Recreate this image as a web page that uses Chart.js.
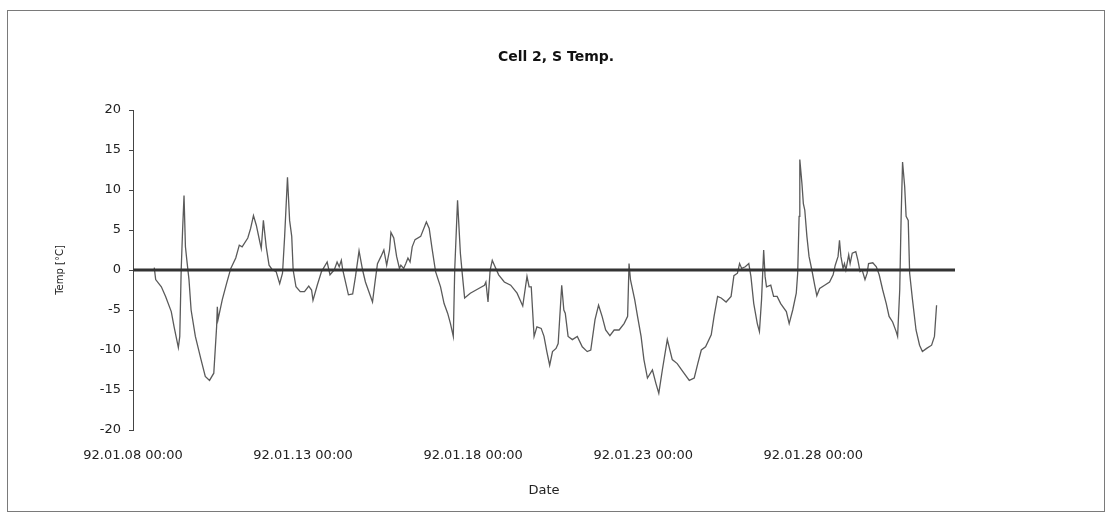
<!DOCTYPE html>
<html lang="en">
<head>
<meta charset="UTF-8">
<title>Cell 2, S Temp.</title>
<script src="https://cdn.jsdelivr.net/npm/chart.js@4.4.0/dist/chart.umd.min.js"></script>
<style>
    * {
        margin: 0;
        padding: 0;
        box-sizing: border-box;
    }

    body {
        width: 1110px;
        height: 512px;
        background: #fff;
        overflow: hidden;
    }

    #frame {
        position: absolute;
        left: 7px;
        top: 10px;
        width: 1098px;
        height: 502px;
        border: 1px solid #7a7a7a;
    }

    #box {
        position: absolute;
        left: 0;
        top: 0;
        width: 1096px;
        height: 500px;
    }
</style>
</head>
<body>
<div id="frame"><div id="box"><canvas id="chart"></canvas></div></div>

<script>
// hours since 92.01.08 00:00, and the S temperature of cell 2
const hours = [
    15, 16, 20, 23, 27, 29, 32, 33, 34, 35, 36, 37, 38, 39.5, 41, 44, 48, 51, 54, 57,
    59, 59.5, 60, 63, 66, 69, 72.5, 75, 77, 81, 83, 85, 87, 89.5, 90.5, 92, 94, 96, 98, 101,
    103.5, 105.5, 107, 109, 110.5, 112, 113, 115, 118, 121, 124, 126, 127, 130, 133, 137, 139, 142, 144, 145.5,
    147, 148, 152, 155, 157, 159.5, 162, 164, 169, 171, 172.5, 175, 177, 179, 181, 182, 184, 186, 188, 189,
    191, 192.5, 194, 195.5, 197, 199, 203, 207, 209, 211, 213.5, 217, 219.5, 222, 224, 226, 227, 229, 231, 232.5,
    234, 238, 243, 248, 249, 250.5, 252, 253.5, 255, 258, 262, 266.5, 271, 275, 278, 279.5, 281, 283, 285, 288,
    290, 292, 294, 296, 298.5, 300, 302.5, 304, 305, 307, 310, 313.5, 317, 320.5, 323, 326, 328.5, 331, 333.5, 336.5,
    339.5, 343, 346.5, 349, 350, 351, 354, 356, 358.5, 360.5, 363, 366.5, 369, 371, 373.5, 377, 380.5, 384, 388, 392.5,
    396, 398.5, 401, 404, 408, 410, 412.5, 415, 418.5, 422, 424, 426.5, 428, 429.5, 432, 434.5, 436, 438, 440.5, 442,
    443.5, 445, 446, 447, 450, 452, 454.5, 457, 461, 463, 465.5, 468, 469, 470, 470.5, 472, 473, 474, 475.5, 477,
    479, 481, 482.5, 484.5, 488, 491.5, 494, 495.5, 497.5, 498.5, 499.5, 501, 502, 503, 505, 506, 507.5, 510, 511.5, 513,
    514.5, 516.5, 518, 519, 522, 524.5, 526.5, 529, 531.5, 533.5, 536, 538.5, 539.5, 541, 542, 543, 544.5, 545.5, 547, 548,
    550, 552.5, 555, 557, 560, 563.5, 565.5, 567
];
const sTemp = [
    0.3, -1.2, -2.1, -3.3, -5.2, -7.1, -9.7, -8.3, 0, 5, 9.3, 2.9, 1.2, -1.2, -5, -8.3, -11.2, -13.3, -13.8, -12.9,
    -7.1, -4.6, -6.2, -3.7, -1.7, 0.2, 1.5, 3.1, 2.9, 4, 5.2, 6.8, 5.6, 3.5, 2.7, 6.2, 2.9, 0.6, 0.1, -0.2,
    -1.7, -0.4, 4.2, 11.6, 6.2, 4.2, 0, -2.1, -2.7, -2.7, -2, -2.5, -3.8, -1.9, -0.2, 1, -0.6, 0, 1, 0.4,
    1.2, 0, -3.1, -3, -0.8, 2.4, 0, -1.5, -4, -1.2, 0.8, 1.7, 2.5, 0.6, 2.5, 4.7, 4, 1.7, 0.2, 0.6,
    0.2, 0.8, 1.5, 1, 2.9, 3.8, 4.2, 6, 5.2, 2.7, -0.2, -2.1, -4.2, -5.4, -6.7, -8.3, 0, 8.7, 2.1, -0.8,
    -3.5, -2.9, -2.4, -1.9, -1.5, -4, 0, 1.2, 0.6, -0.6, -1.5, -1.9, -2.9, -4.5, -0.8, -2.1, -2.1, -8.3, -7.1, -7.3,
    -8.3, -10.2, -11.9, -10.2, -9.8, -9.2, -1.9, -5, -5.4, -8.3, -8.7, -8.3, -9.6, -10.2, -10, -6.2, -4.4, -5.8, -7.5, -8.2,
    -7.5, -7.5, -6.7, -5.8, 0.8, -1.2, -3.7, -5.8, -8.3, -11.2, -13.5, -12.5, -14.2, -15.4, -12.5, -8.7, -11.2, -11.7, -12.7, -13.8,
    -13.5, -11.7, -10, -9.6, -8.1, -5.8, -3.3, -3.5, -4, -3.3, -0.7, -0.4, 0.8, 0.2, 0.4, 0.8, -0.8, -4.2, -6.7, -7.7,
    -3.7, 2.5, -0.8, -2.1, -1.9, -3.3, -3.3, -4.2, -5.2, -6.7, -5, -2.9, -0.4, 6.7, 13.8, 10.8, 8.3, 7.5, 4.2, 1.7,
    0, -1.9, -3.2, -2.3, -1.9, -1.5, -0.6, 0.6, 1.7, 3.7, 1.7, 0.2, 0.8, 0, 1.9, 0.8, 2.1, 2.3, 1.2, -0.2,
    0, -1.2, -0.4, 0.8, 0.9, 0.4, -0.6, -2.5, -4.2, -5.8, -6.5, -7.7, -8.3, -2.5, 6.7, 13.5, 10.4, 6.7, 6.2, -0.4,
    -3.7, -7.5, -9.4, -10.2, -9.8, -9.4, -8.3, -4.4
];

// second trace, sits on 0 °C for the whole record
const refHours = [0, 580];
const refTemp = [0, 0];

const tickHours = [0, 120, 240, 360, 480];
const tickLabels = ['92.01.08 00:00', '92.01.13 00:00', '92.01.18 00:00', '92.01.23 00:00', '92.01.28 00:00'];

const toPoints = (xs, ys) => xs.map((x, i) => ({ x: x, y: ys[i] }));

Chart.defaults.font.family = "'DejaVu Sans', sans-serif";
Chart.defaults.color = '#222';

new Chart(document.getElementById('chart').getContext('2d'), {
    type: 'line',
    data: {
        datasets: [
            {
                label: 'ref',
                data: toPoints(refHours, refTemp),
                borderColor: '#333',
                borderWidth: 3,
                pointRadius: 0
            },
            {
                label: 'S Temp',
                data: toPoints(hours, sTemp),
                borderColor: '#5a5a5a',
                borderWidth: 1.3,
                pointRadius: 0,
                tension: 0
            }
        ]
    },
    options: {
        responsive: true,
        maintainAspectRatio: false,
        animation: false,
        plugins: {
            legend: { display: false },
            tooltip: { enabled: false },
            title: {
                display: true,
                text: 'Cell 2, S Temp.',
                color: '#111',
                font: { size: 14, weight: 'bold' },
                padding: { top: 38, bottom: 44.2 }
            }
        },
        scales: {
            x: {
                type: 'linear',
                min: 0,
                max: 580,
                afterBuildTicks: scale => {
                    scale.ticks = tickHours.map(v => ({ value: v }));
                },
                afterFit: scale => { scale.height = 81; },
                ticks: {
                    font: { size: 13 },
                    padding: 18,
                    maxRotation: 0,
                    autoSkip: false,
                    callback: value => tickLabels[tickHours.indexOf(value)]
                },
                grid: { display: false, drawTicks: false },
                border: { display: false },
                title: {
                    display: true,
                    text: 'Date',
                    font: { size: 13 },
                    padding: { top: 0, bottom: 13 }
                }
            },
            y: {
                min: -20,
                max: 20,
                afterFit: scale => { scale.width = 125; },
                ticks: {
                    stepSize: 5,
                    font: { size: 13 },
                    padding: 8
                },
                grid: {
                    drawOnChartArea: false,
                    drawTicks: true,
                    tickLength: 4,
                    color: '#444'
                },
                border: { display: true, color: '#444', width: 1 },
                title: {
                    display: true,
                    text: 'Temp [°C]',
                    font: { size: 10 },
                    padding: { top: 46, bottom: 0 }
                }
            },
            // empty right-hand margin of the plot
            yRight: {
                position: 'right',
                min: -20,
                max: 20,
                afterFit: scale => { scale.width = 149; },
                ticks: { display: false },
                grid: { display: false },
                border: { display: false }
            }
        }
    }
});
</script>
</body>
</html>
